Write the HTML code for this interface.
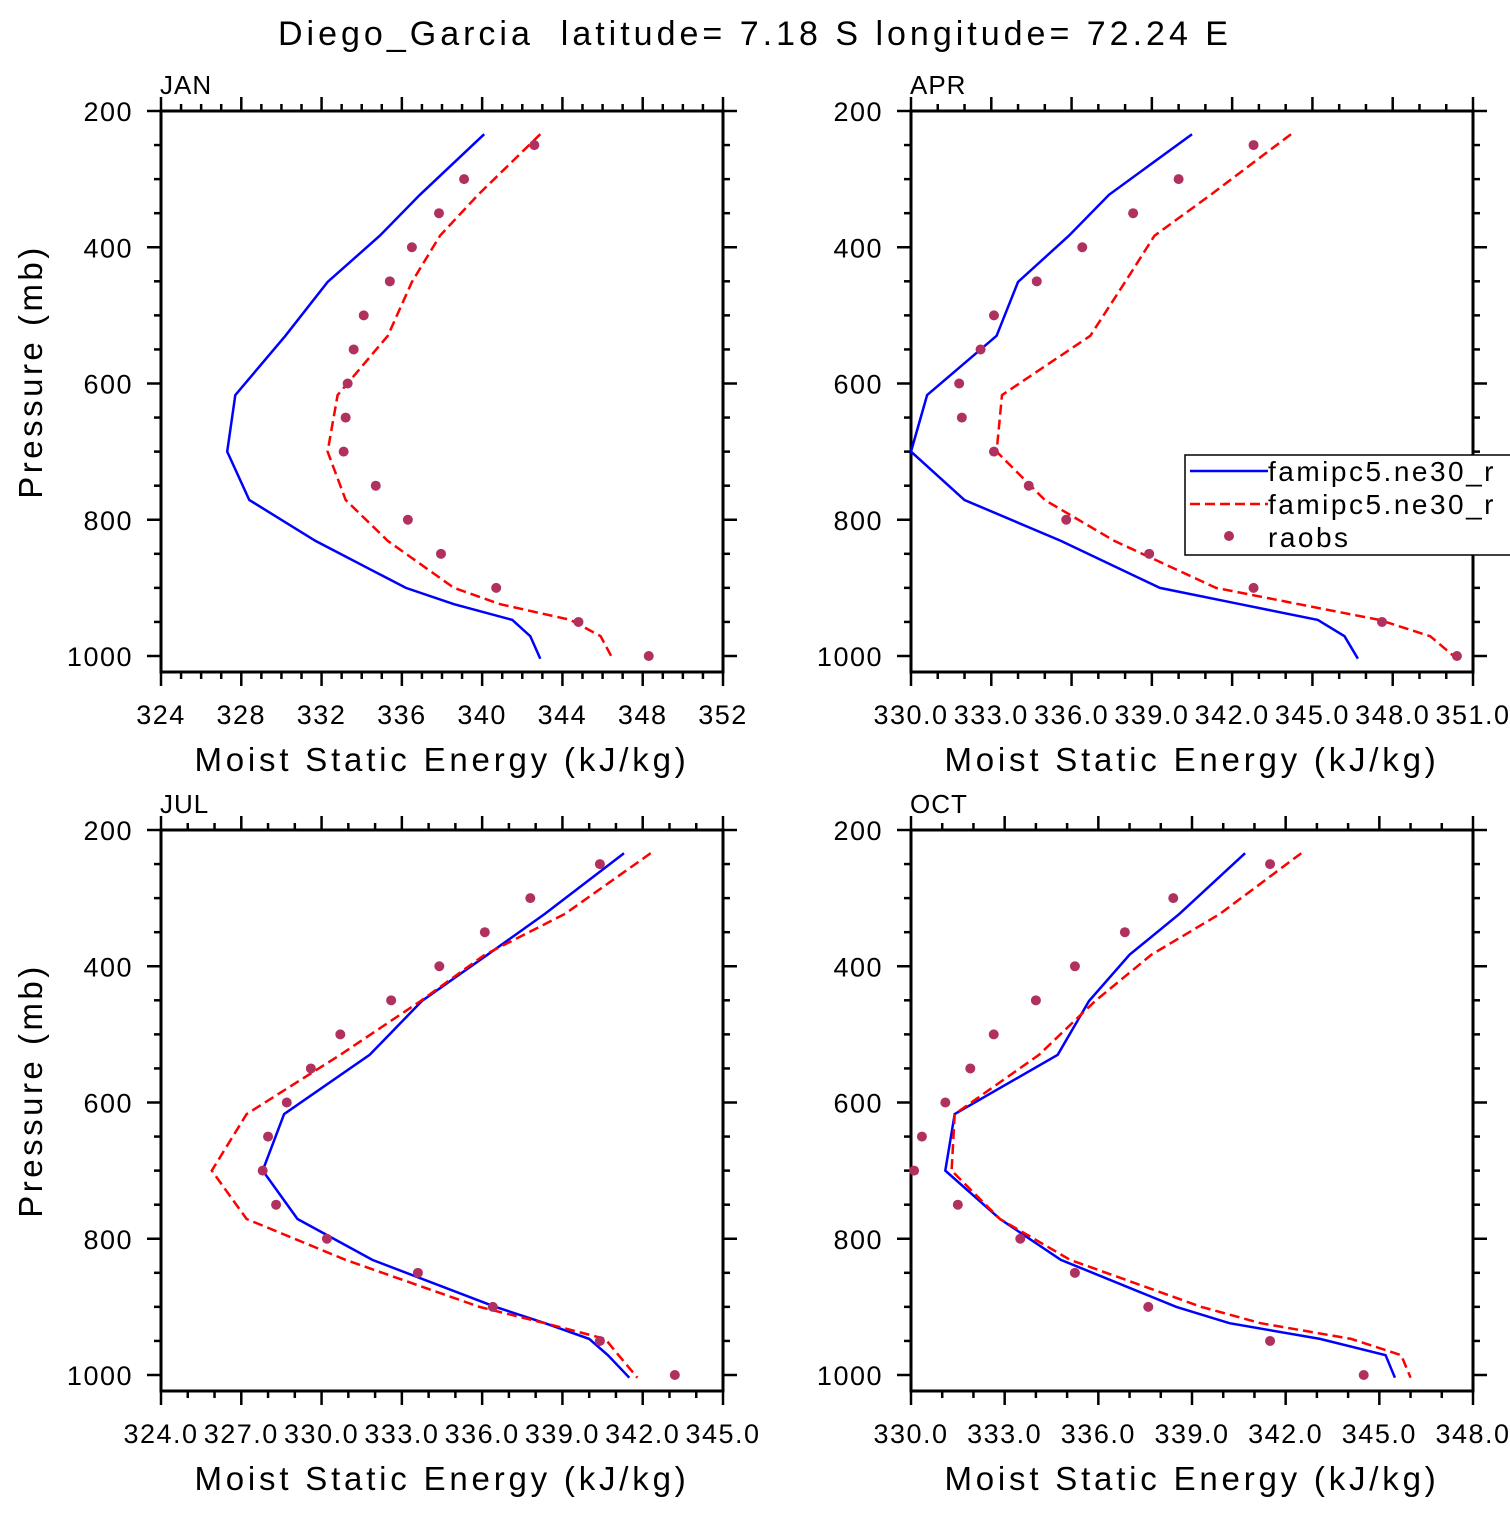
<!DOCTYPE html>
<html><head><meta charset="utf-8"><style>
html,body{margin:0;padding:0;background:#fff}
svg text{font-family:"Liberation Sans",sans-serif;fill:#000}
</style></head><body>
<svg id="chart" width="1510" height="1510" viewBox="0 0 1510 1510" xmlns="http://www.w3.org/2000/svg">
<text x="755" y="45" font-size="34" text-anchor="middle" letter-spacing="4" xml:space="preserve">Diego_Garcia  latitude= 7.18 S longitude= 72.24 E</text>
</svg>
<script>
const modelP = [234, 323, 383, 451, 530, 617, 700, 771, 831, 900, 924, 947, 971, 1004];
const obsP = [250,300,350,400,450,500,550,600,650,700,750,800,850,900,950,1000];
const pTicks = [200,400,600,800,1000];

const janBlue = [340.1,336.9,334.9,332.3,330.2,327.7,327.3,328.4,331.7,336.2,338.6,341.5,342.4,342.9];
const janRed = [342.9,339.8,337.9,336.5,335.3,332.8,332.3,333.2,335.3,338.6,340.9,344.4,345.9,346.5];
const janObs = [342.6,339.1,337.85,336.5,335.4,334.1,333.6,333.3,333.2,333.1,334.7,336.3,337.95,340.7,344.8,348.3];
const janXTicks = ["324","328","332","336","340","344","348","352"];

const aprBlue = [340.5,337.4,335.9,334.0,333.2,330.6,330.0,332.0,335.6,339.3,342.3,345.2,346.2,346.7];
const aprRed = [344.2,341.2,339.1,338.0,336.7,333.4,333.2,335.0,337.6,341.4,344.5,347.5,349.4,350.4];
const aprObs = [342.8,340.0,338.3,336.4,334.7,333.1,332.6,331.8,331.9,333.1,334.4,335.8,338.9,342.8,347.6,350.4];
const aprXTicks = ["330.0","333.0","336.0","339.0","342.0","345.0","348.0","351.0"];

const julBlue = [341.3,338.35,336.2,333.75,331.8,328.6,327.8,329.1,331.9,336.5,338.35,340.0,340.7,341.5];
const julRed = [342.3,339.1,336.1,333.7,330.7,327.2,325.9,327.2,330.9,335.9,338.35,340.6,341.1,341.8];
const julObs = [340.4,337.8,336.1,334.4,332.6,330.7,329.6,328.7,328.0,327.8,328.3,330.2,333.6,336.4,340.4,343.2];
const julXTicks = ["324.0","327.0","330.0","333.0","336.0","339.0","342.0","345.0"];

const octBlue = [340.7,338.6,337.0,335.7,334.7,331.4,331.1,332.85,334.8,338.5,340.2,343.1,345.2,345.5];
const octRed = [342.5,339.9,337.7,335.9,334.1,331.4,331.3,332.85,335.1,339.3,341.2,344.1,345.7,346.0];
const octObs = [341.5,338.4,336.85,335.25,334.0,332.65,331.9,331.1,330.35,330.1,331.5,333.5,335.25,337.6,341.5,344.5];
const octXTicks = ["330.0","333.0","336.0","339.0","342.0","345.0","348.0"];

const NS="http://www.w3.org/2000/svg";
const svg=document.getElementById('chart');
function mk(tag,attrs,parent){const e=document.createElementNS(NS,tag);for(const k in attrs)e.setAttribute(k,attrs[k]);(parent||svg).appendChild(e);return e;}

function panel(key,label,x0,y0,xTicks,blue,red,obs,showLegend){
  const W=562,H=561,x1=x0+W,y1=y0+H;
  const g=mk('g',{});
  
  
  const xmin=parseFloat(xTicks[0]), xmax=parseFloat(xTicks[xTicks.length-1]);
  const step=parseFloat(xTicks[1])-xmin;
  const xs=v=>x0+(v-xmin)/(xmax-xmin)*W;
  const ys=p=>y0+(p-200)*0.68125;
  const tg=mk('g',{stroke:'#000','stroke-width':2.5},g);
  
  
  for(let v=xmin; v<=xmax+1e-6; v+=1){
    const isMajor=Math.abs(((v-xmin)/step)-Math.round((v-xmin)/step))<1e-6;
    const L=isMajor?14:7, X=xs(v);
    mk('line',{x1:X,x2:X,y1:y1,y2:y1+L},tg);
    mk('line',{x1:X,x2:X,y1:y0,y2:y0-L},tg);
  }
  for(let p=200;p<=1000;p+=50){
    const isMajor=p%200===0, L=isMajor?14:7, Y=ys(p);
    mk('line',{x1:x0,x2:x0-L,y1:Y,y2:Y},tg);
    mk('line',{x1:x1,x2:x1+L,y1:Y,y2:Y},tg);
  }
  const fr=mk('rect',{x:x0,y:y0,width:W,height:H,fill:'none',stroke:'#000','stroke-width':3},g);
  
  
  xTicks.forEach((t,i)=>{
    const e=mk('text',{x:xs(parseFloat(t)),y:y1+52,'font-size':27,'text-anchor':'middle','letter-spacing':1.5},g);
    e.textContent=t;
    
    
  });
  pTicks.forEach(p=>{
    const e=mk('text',{x:x0-28,y:ys(p)+10,'font-size':27,'text-anchor':'end','letter-spacing':1.5},g);
    e.textContent=p;
    
    
  });
  const xt=mk('text',{x:x0+W/2,y:y1+99,'font-size':33,'text-anchor':'middle','letter-spacing':3.8},g);
  xt.textContent='Moist Static Energy (kJ/kg)';
  
  
  if(x0<500){
    const yt=mk('text',{x:0,y:0,'font-size':33,'text-anchor':'middle','letter-spacing':3.5,transform:`translate(42,${y0+H/2-20}) rotate(-90)`},g);
    yt.textContent='Pressure (mb)';
    
    
  }
  const pl=mk('text',{x:x0-1,y:y0-17,'font-size':26,'letter-spacing':1},g);
  pl.textContent=label;
  
  
  const pts=arr=>arr.map((v,i)=>xs(v).toFixed(1)+','+ys(modelP[i]).toFixed(1)).join(' ');
  const b=mk('polyline',{points:pts(blue),fill:'none',stroke:'#0000ff','stroke-width':2.5},g);
  
  
  const r=mk('polyline',{points:pts(red),fill:'none',stroke:'#ff0000','stroke-width':2.5,'stroke-dasharray':'10,5'},g);
  
  
  obs.forEach((v,i)=>{
    const c=mk('circle',{cx:xs(v),cy:ys(obsP[i]),r:5,fill:'#b03060'},g);
    
    
  });
  if(showLegend){
    const lg=mk('g',{},g);
    
    
    mk('rect',{x:1185,y:455,width:340,height:100,fill:'#fff',stroke:'#000','stroke-width':1.5},lg);
    mk('line',{x1:1190,x2:1268,y1:471,y2:471,stroke:'#0000ff','stroke-width':2.5},lg);
    mk('line',{x1:1190,x2:1268,y1:504,y2:504,stroke:'#ff0000','stroke-width':2.5,'stroke-dasharray':'10,5'},lg);
    mk('circle',{cx:1229,cy:536,r:5,fill:'#b03060'},lg);
    const names=['famipc5.ne30_r','famipc5.ne30_r','raobs'];
    names.forEach((n,i)=>{
      const t=mk('text',{x:1268,y:481+i*33,'font-size':28,'letter-spacing':2.5},lg);
      t.textContent=n;
      
      
    });
  }
}
panel('jan','JAN',161,111,janXTicks,janBlue,janRed,janObs,false);
panel('apr','APR',911,111,aprXTicks,aprBlue,aprRed,aprObs,true);
panel('jul','JUL',161,830,julXTicks,julBlue,julRed,julObs,false);
panel('oct','OCT',911,830,octXTicks,octBlue,octRed,octObs,false);
</script>
</body></html>
